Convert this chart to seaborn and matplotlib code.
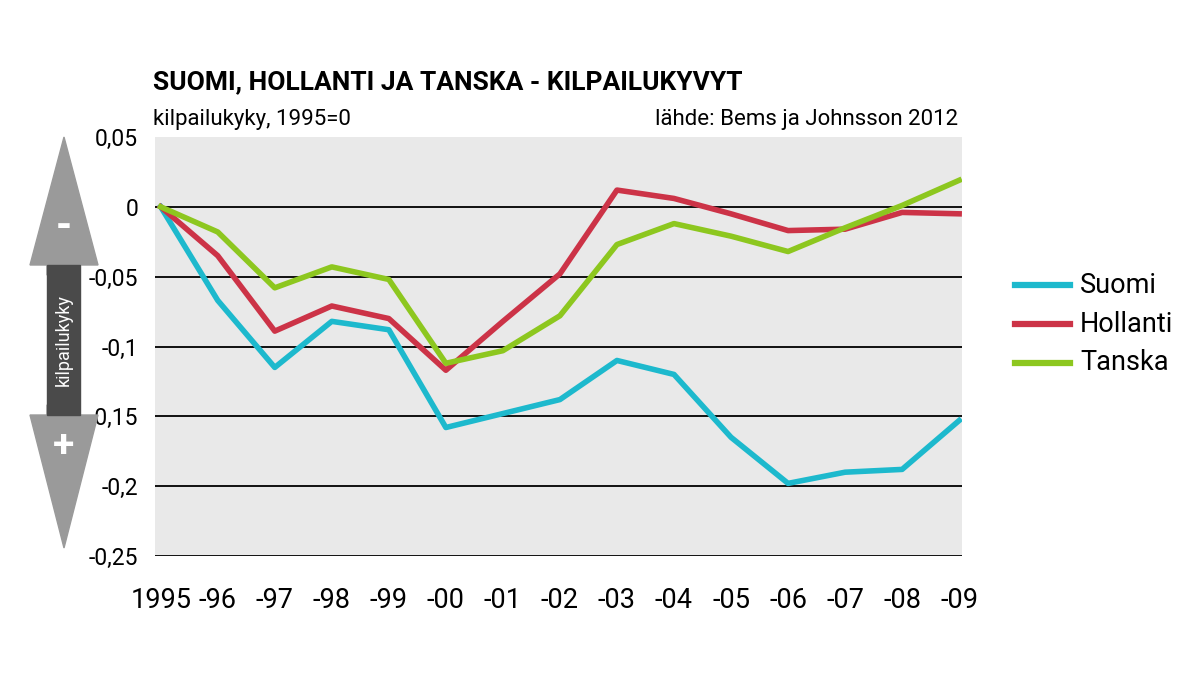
import matplotlib
matplotlib.use("Agg")
import matplotlib.pyplot as plt
import seaborn as sns
import pandas as pd
from matplotlib.patches import Polygon, Rectangle

years = list(range(1995, 2010))
xlabels = ["1995", "-96", "-97", "-98", "-99", "-00", "-01", "-02", "-03", "-04", "-05", "-06", "-07", "-08", "-09"]
suomi = [0, -0.067, -0.115, -0.082, -0.088, -0.158, -0.148, -0.138, -0.110, -0.120, -0.165, -0.198, -0.190, -0.188, -0.153]
hollanti = [0, -0.035, -0.089, -0.071, -0.080, -0.117, -0.082, -0.048, 0.012, 0.006, -0.005, -0.017, -0.016, -0.004, -0.005]
tanska = [0, -0.018, -0.058, -0.043, -0.052, -0.112, -0.103, -0.078, -0.027, -0.012, -0.021, -0.032, -0.015, 0.001, 0.019]
series = {"Suomi": suomi, "Hollanti": hollanti, "Tanska": tanska}
colors = {"Suomi": "#1db9cd", "Hollanti": "#cc3347", "Tanska": "#8dc71f"}
yticks = [0.05, 0, -0.05, -0.1, -0.15, -0.2, -0.25]
ylabels = ["0,05", "0", "-0,05", "-0,1", "-0,15", "-0,2", "-0,25"]

plt.rcParams["font.family"] = "Roboto"

df = pd.DataFrame([(y, k, v) for k, vals in series.items() for y, v in zip(years, vals)],
                  columns=["year", "maa", "value"])

fig = plt.figure(figsize=(11.99, 6.75), dpi=100)
ax = fig.add_axes([155/1199, 1-556/675, (962-155)/1199, (556-137)/675])
ax.set_facecolor("#e9e9e9")
for t in yticks[1:]:
    ax.axhline(t, color="black", lw=1.3, zorder=1)
sns.lineplot(data=df, x="year", y="value", hue="maa", palette=colors, lw=4, ax=ax,
             legend=False, zorder=3)
ax.set_xlim(1994.9, 2009.05)
ax.set_ylim(-0.25, 0.05)
ax.set_yticks(yticks)
ax.set_yticklabels(ylabels, fontsize=16.5)
ax.set_xticks(years)
ax.set_xticklabels(xlabels, fontsize=19.5)
ax.tick_params(axis="y", length=0, pad=12)
ax.tick_params(axis="x", length=0, pad=22)
ax.set_xlabel(""); ax.set_ylabel("")
for s in ax.spines.values():
    s.set_visible(False)

fig.text(153/1199, 1-82/675, "SUOMI, HOLLANTI JA TANSKA - KILPAILUKYVYT", fontsize=19,
         fontweight="bold", va="center")
fig.text(153/1199, 1-119/675, "kilpailukyky, 1995=0", fontsize=16, va="center")
fig.text(958/1199, 1-119/675, "lähde: Bems ja Johnsson 2012", fontsize=16, va="center", ha="right")

for i, k in enumerate(series):
    y = 1 - (285 + i*39)/675
    fig.add_artist(plt.Line2D([1015/1199, 1070/1199], [y, y], color=colors[k], lw=4.5,
                              transform=fig.transFigure))
    fig.text(1080/1199, y, k, fontsize=19.5, va="center")

def P(pts):
    return [(x/1199, 1-y/675) for x, y in pts]
g = "#9a9a9a"
fig.add_artist(Polygon(P([(64, 137), (98, 265), (80, 265), (80, 275), (47, 275), (47, 265), (30, 265)]),
                       closed=True, color=g, transform=fig.transFigure))
fig.add_artist(Polygon(P([(64, 548), (98, 415), (80, 415), (80, 405), (47, 405), (47, 415), (30, 415)]),
                       closed=True, color=g, transform=fig.transFigure))
fig.add_artist(Rectangle((47/1199, 1-415/675), 33/1199, 150/675, color="#4a4a4a",
                         transform=fig.transFigure))
fig.text(64/1199, 1-340/675, "kilpailukyky", rotation=90, color="white", fontsize=13,
         ha="center", va="center")
fig.text(64/1199, 1-228/675, "-", color="white", fontsize=30, fontweight="bold", ha="center", va="center")
fig.text(64/1199, 1-447/675, "+", color="white", fontsize=28, fontweight="bold", ha="center", va="center")

fig.savefig("out.png", dpi=100, facecolor="white")
